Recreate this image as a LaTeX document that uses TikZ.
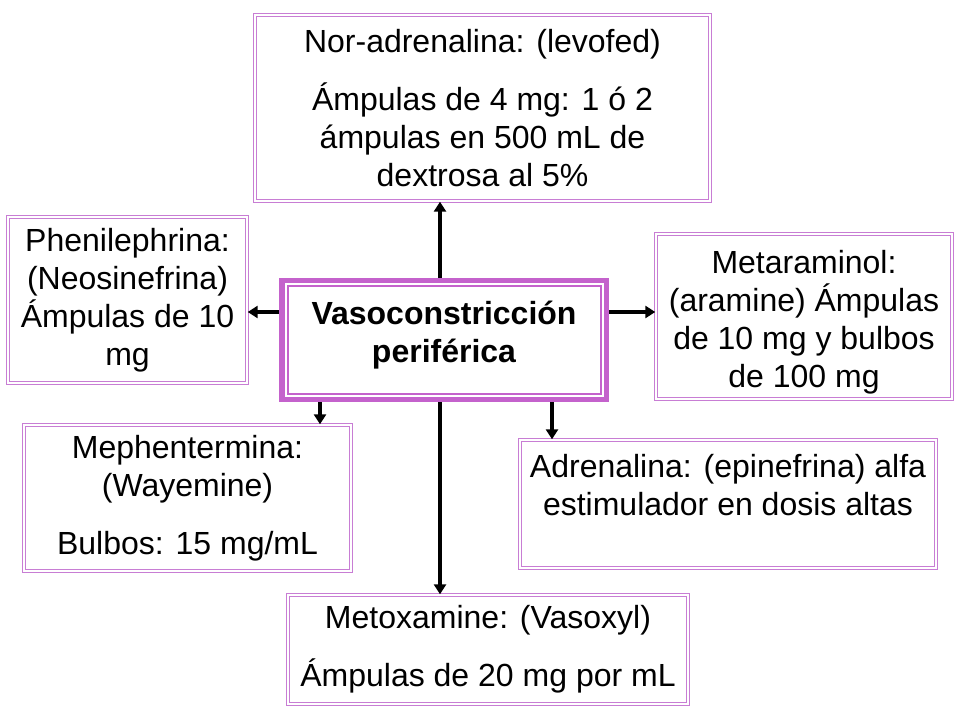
\documentclass[tikz,border=0pt]{standalone}
\usepackage{fontspec}
\setmainfont{Liberation Sans}
\usetikzlibrary{arrows.meta}
\definecolor{vcpurple}{RGB}{196,98,204}
\definecolor{boxpurple}{RGB}{200,125,212}
\tikzset{
    drug/.style={draw=boxpurple, line width=0.75pt, double=white, double distance=1.1pt,
        align=center, inner sep=0pt, font=\fontsize{24}{28.5}\selectfont},
    vcbox/.style={draw=vcpurple, line width=3pt, align=center, inner sep=0pt,
        font=\bfseries\fontsize{24}{28.5}\selectfont},
    vcline/.style={draw=vcpurple, line width=1.5pt},
    arr/.style={line width=2.5pt, -{Triangle[length=7.5pt,width=9pt]}}
}
\begin{document}
\begin{tikzpicture}[x=0.75pt,y=-0.75pt]
        \fill[white] (0,0) rectangle (960,720);
        \useasboundingbox (0,0) rectangle (960,720);
        % centre
        \node[vcbox, text depth=12pt, minimum width=326*0.75pt, minimum height=120*0.75pt] (vc) at (444,340) {Vasoconstricción\\periférica};
        \draw[vcline] ([shift={(4.5,4.5)}]vc.north west) rectangle ([shift={(-4.5,-4.5)}]vc.south east);
        \draw[vcline] ([shift={(8.5,8.5)}]vc.north west) rectangle ([shift={(-8.5,-8.5)}]vc.south east);
        % drugs
        \node[drug, minimum width=455.4*0.75pt, minimum height=186.4*0.75pt] (noradr) at (482.5,108)
            {Nor-adrenalina: (levofed)\\[15pt]Ámpulas de 4 mg: 1 ó 2\\ámpulas en 500 mL de\\dextrosa al 5\%};
        \node[drug, minimum width=239.4*0.75pt, minimum height=166.4*0.75pt] (phenil) at (127.5,300)
            {Phenilephrina:\\(Neosinefrina)\\Ámpulas de 10\\mg};
        \node[drug, minimum width=296.4*0.75pt, minimum height=165.4*0.75pt] (metar) at (804,316.5)
            {\rule{0pt}{26pt}Metaraminol:\\(aramine) Ámpulas\\de 10 mg y bulbos\\de 100 mg};
        \node[drug, minimum width=327.4*0.75pt, minimum height=146.4*0.75pt] (mephent) at (187.5,498)
            {Mephentermina:\\(Wayemine)\\[15pt]Bulbos: 15 mg/mL};
        \node[drug, minimum width=416.4*0.75pt, minimum height=128.4*0.75pt] (adren) at (728,504)
            {Adrenalina: (epinefrina) alfa\\estimulador en dosis altas\\\mbox{}};
        \node[drug, minimum width=400.4*0.75pt, minimum height=109.4*0.75pt] (metox) at (488,649.5)
            {Metoxamine: (Vasoxyl)\\[15pt]Ámpulas de 20 mg por mL};
        % arrows
        \coordinate (trunk) at (440,340);
        \coordinate (side) at (444,312);
        \coordinate (lowleft) at (320,420);
        \coordinate (lowright) at (552,420);
        \draw[arr] (vc.north -| trunk) -- (noradr.south -| trunk);
        \draw[arr] (vc.south -| trunk) -- (metox.north -| trunk);
        \draw[arr] (vc.west |- side) -- (phenil.east |- side);
        \draw[arr] (vc.east |- side) -- (metar.west |- side);
        \draw[arr] (vc.south -| lowleft) -- (mephent.north -| lowleft);
        \draw[arr] (vc.south -| lowright) -- (adren.north -| lowright);
\end{tikzpicture}
\end{document}
